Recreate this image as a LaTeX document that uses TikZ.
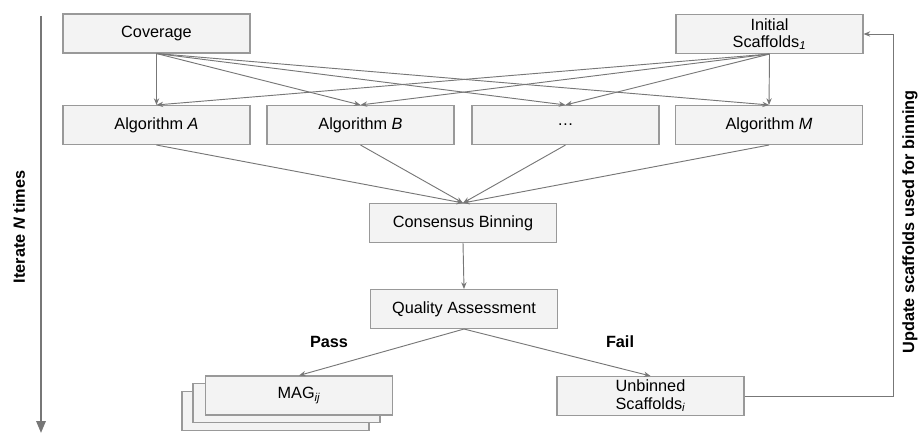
\documentclass[tikz,border=0pt]{standalone}
\usepackage{fontspec}
\setmainfont{Liberation Sans}
\usetikzlibrary{arrows.meta}
\definecolor{boxfill}{HTML}{F3F3F3}
\definecolor{boxline}{HTML}{999999}
\definecolor{arr}{HTML}{777777}
\begin{document}
\begin{tikzpicture}[x=0.75pt,y=-0.75pt,
  box/.style={draw=boxline,fill=boxfill,line width=0.8pt,minimum width=140.25pt,minimum height=29.25pt,inner sep=0pt,align=center,font=\fontsize{12.2}{13}\selectfont},
  conn/.style={draw=arr,line width=0.7pt,-{Stealth[length=5pt,width=4pt]}},
  lbl/.style={font=\fontsize{12.2}{13}\selectfont\bfseries}]
\useasboundingbox (0,0) rectangle (919,434);
% nodes
\node[box] (cov) at (156.5,33.5) {Coverage};
\node[box] (ini) at (769.5,34) {Initial\\Scaffolds\textsubscript{\itshape 1}};
\node[box] (algA) at (156.5,125) {Algorithm \textit{A}};
\node[box] (algB) at (360.5,125) {Algorithm \textit{B}};
\node[box] (dots) at (565.5,125) {\dots};
\node[box] (algM) at (769,125) {Algorithm \textit{M}};
\node[box] (cons) at (463,223) {Consensus Binning};
\node[box] (qa) at (464,309) {Quality Assessment};
\node[box] (mag3) at (275.5,411) {};
\node[box] (mag2) at (286.5,403) {};
\node[box] (mag) at (299,395.5) {MAG\textsubscript{\itshape ij}};
\node[box] (unb) at (650.5,396) {Unbinned\\Scaffolds\textsubscript{\itshape i}};
% edges from inputs
\foreach \t in {algA,algB,dots,algM}{
  \draw[conn] (cov.south) -- (\t.north);
  \draw[conn] (ini.south) -- (\t.north);
}
\foreach \s in {algA,algB,dots,algM}{
  \draw[conn] (\s.south) -- (cons.north);
}
\draw[conn] (cons.south) -- (qa.north);
\draw[conn] (qa.south) -- (mag.north);
\draw[conn] (qa.south) -- (unb.north);
% feedback
\coordinate (fb1) at (893,396);
\coordinate (fb2) at (893,34);
\draw[conn] (unb.east) -- (fb1) -- (fb2) -- (ini.east);
% labels
\node[lbl] (pass) at (329,342) {Pass};
\node[lbl] (fail) at (620,342) {Fail};
\node[lbl,rotate=90] (upd) at (910,222) {Update scaffolds used for binning};
\node[lbl,rotate=90] (iter) at (19,227) {Iterate \textit{N} times};
% iterate arrow
\coordinate (it1) at (41,16);
\coordinate (it2) at (41,433);
\draw[draw=arr,line width=1.6pt,-{Triangle[length=9pt,width=7pt]}] (it1) -- (it2);
\end{tikzpicture}
\end{document}
